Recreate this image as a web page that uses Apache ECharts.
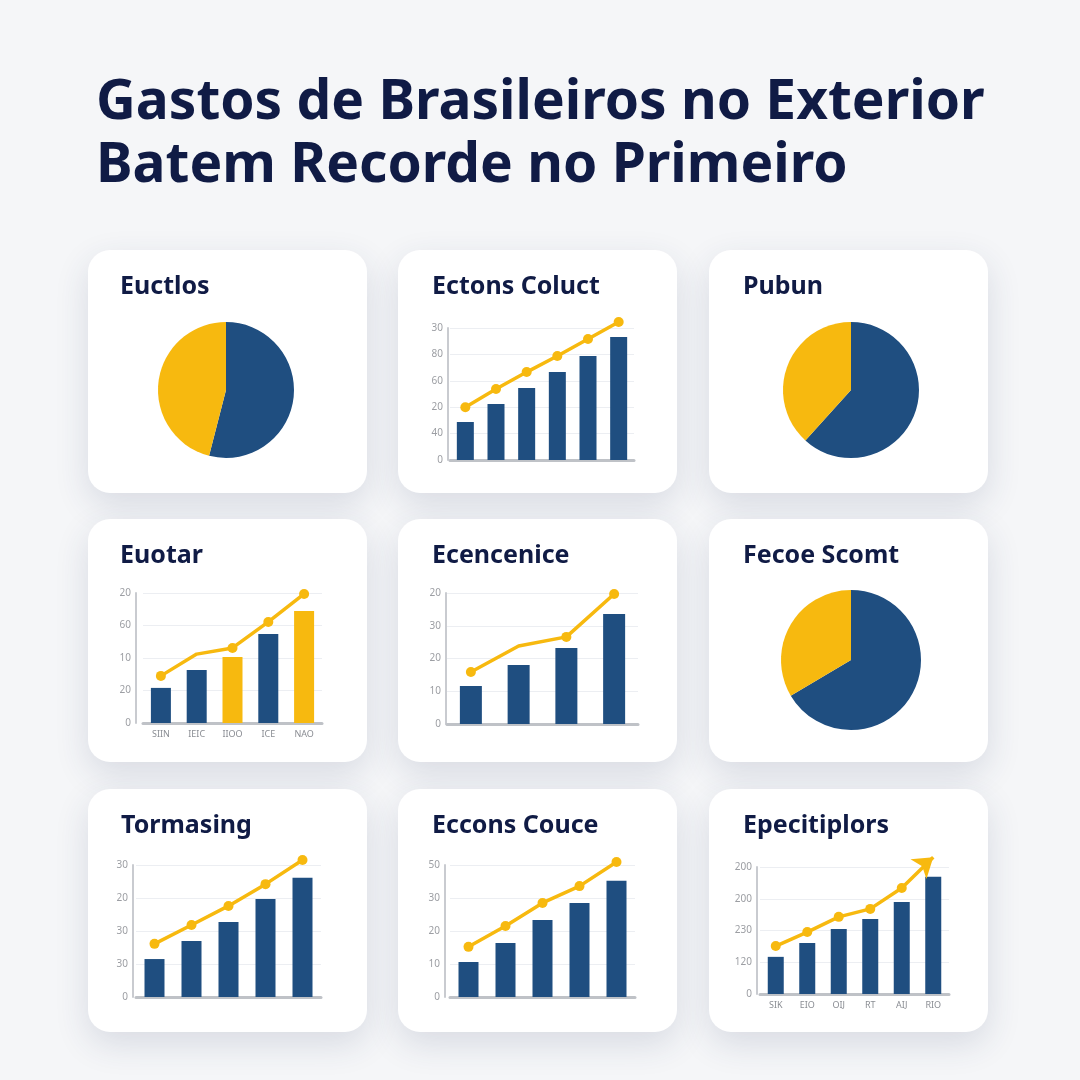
<!DOCTYPE html>
<html>
<head>
<meta charset="utf-8">
<script src="https://cdn.jsdelivr.net/npm/echarts@6/dist/echarts.min.js"></script>
<style>
  html, body { margin: 0; padding: 0; background: #f5f6f8; }
  #chart { width: 1080px; height: 1080px; }
</style>
</head>
<body>
<div id="chart"></div>
<script>
// ---- data ----
const pageTitle = ['Gastos de Brasileiros no Exterior', 'Batem Recorde no Primeiro'];
const cardTitles = ['Euctlos', 'Ectons Coluct', 'Pubun', 'Euotar', 'Ecencenice', 'Fecoe Scomt', 'Tormasing', 'Eccons Couce', 'Epecitiplors'];

const pieNames = ['Azul', 'Amarelo'];
const euctlosPie = [54, 46];
const pubunPie = [61.7, 38.3];
const fecoePie = [66.5, 33.5];

const ectonsCategories = ['1', '2', '3', '4', '5', '6'];
const ectonsBars = [1.44, 2.12, 2.73, 3.33, 3.94, 4.66];
const ectonsLine = [2.0, 2.69, 3.33, 3.94, 4.58, 5.23];
const ectonsTicks = ['0', '40', '20', '60', '80', '30'];

const euotarCategories = ['SIIN', 'IEIC', 'IIOO', 'ICE', 'NAO'];
const euotarBars = [1.08, 1.63, 2.03, 2.74, 3.45];
const euotarLine = [1.45, 2.12, 2.31, 3.11, 3.97];
const euotarTicks = ['0', '20', '10', '60', '20'];

const ecenCategories = ['1', '2', '3', '4'];
const ecenBars = [1.16, 1.80, 2.32, 3.36];
const ecenLine = [1.59, 2.38, 2.66, 3.97];
const ecenTicks = ['0', '10', '20', '30', '20'];

const tormCategories = ['1', '2', '3', '4', '5'];
const tormBars = [1.15, 1.70, 2.27, 2.97, 3.61];
const tormLine = [1.61, 2.18, 2.76, 3.42, 4.15];
const tormTicks = ['0', '30', '30', '20', '30'];

const ecconsCategories = ['1', '2', '3', '4', '5'];
const ecconsBars = [1.06, 1.64, 2.33, 2.85, 3.52];
const ecconsLine = [1.52, 2.15, 2.85, 3.36, 4.09];
const ecconsTicks = ['0', '10', '20', '30', '50'];

const epecCategories = ['SIK', 'EIO', 'OIJ', 'RT', 'AIJ', 'RIO'];
const epecBars = [1.17, 1.61, 2.05, 2.36, 2.90, 3.69];
const epecLine = [1.51, 1.95, 2.43, 2.68, 3.34, 4.31];
const epecTicks = ['0', '120', '230', '200', '200'];

// ---- style / layout ----
const BLUE = '#1f4e80';
const YELLOW = '#f7b90f';
const NAVY = '#101b45';
const FONT = 'Noto Sans';

const cards = [
  [88, 250], [398, 250], [709, 250],
  [88, 519], [398, 519], [709, 519],
  [88, 789], [398, 789], [709, 789]
];
const titleTops = [274, 274, 274, 543, 543, 543, 813, 813, 813];
const titleLefts = [120, 432, 743, 120, 432, 743, 121, 432, 743];

const barCharts = [
  { cats: ectonsCategories, bars: ectonsBars, line: ectonsLine, ticks: ectonsTicks,
    grid: { left: 450, top: 328, width: 184, height: 132 }, offset: 2, barWidth: 17, showX: false },
  { cats: euotarCategories, bars: euotarBars, line: euotarLine, ticks: euotarTicks,
    grid: { left: 143, top: 593, width: 179, height: 130 }, offset: 7, barWidth: 20, showX: true,
    barColors: [BLUE, BLUE, YELLOW, BLUE, YELLOW], hideSymbol: [1] },
  { cats: ecenCategories, bars: ecenBars, line: ecenLine, ticks: ecenTicks,
    grid: { left: 447, top: 593, width: 191, height: 131 }, offset: 1, barWidth: 22, showX: false,
    hideSymbol: [1] },
  { cats: tormCategories, bars: tormBars, line: tormLine, ticks: tormTicks,
    grid: { left: 136, top: 865, width: 185, height: 132 }, offset: 3, barWidth: 20, showX: false },
  { cats: ecconsCategories, bars: ecconsBars, line: ecconsLine, ticks: ecconsTicks,
    grid: { left: 450, top: 865, width: 185, height: 132 }, offset: 5, barWidth: 20, showX: false },
  { cats: epecCategories, bars: epecBars, line: epecLine, ticks: epecTicks,
    grid: { left: 760, top: 867, width: 189, height: 127 }, offset: 3, barWidth: 16, showX: true,
    arrowLast: true }
];

const pies = [
  { values: euctlosPie, center: [226, 390], radius: 68 },
  { values: pubunPie, center: [851, 390], radius: 68 },
  { values: fecoePie, center: [851, 660], radius: 70 }
];

// ---- build option ----
const grids = [];
const xAxes = [];
const yAxes = [];
const series = [];

barCharts.forEach((c, i) => {
  grids.push(Object.assign({ containLabel: false }, c.grid));
  xAxes.push({
    gridIndex: i,
    type: 'category',
    data: c.cats,
    axisLine: { lineStyle: { color: '#bfc2c7', width: 3 } },
    axisTick: { show: false },
    axisLabel: { show: c.showX, color: '#8a8d93', fontSize: 9, margin: 7, fontFamily: FONT }
  });
  yAxes.push({
    gridIndex: i,
    type: 'value',
    min: 0,
    max: c.ticks.length - 1,
    interval: 1,
    offset: c.offset,
    axisLine: { show: true, lineStyle: { color: '#c9cbd0', width: 2 } },
    axisTick: { show: false },
    splitLine: { lineStyle: { color: '#eceef2', width: 1 } },
    axisLabel: {
      formatter: v => c.ticks[v],
      color: '#9c9ea3', fontSize: 10, margin: 5, fontFamily: FONT
    }
  });
  series.push({
    type: 'bar',
    xAxisIndex: i,
    yAxisIndex: i,
    barWidth: c.barWidth,
    data: c.bars.map((v, k) => ({
      value: v,
      itemStyle: { color: c.barColors ? c.barColors[k] : BLUE }
    })),
    z: 2
  });
  series.push({
    type: 'line',
    xAxisIndex: i,
    yAxisIndex: i,
    clip: false,
    symbol: 'circle',
    symbolSize: 10,
    lineStyle: { color: YELLOW, width: 3.5 },
    itemStyle: { color: YELLOW },
    data: c.line.map((v, k) => {
      const d = { value: v };
      if (c.hideSymbol && c.hideSymbol.includes(k)) d.symbol = 'none';
      if (c.arrowLast && k === c.line.length - 1) {
        d.symbol = 'arrow';
        d.symbolSize = [19, 19];
        d.symbolRotate = -51;
      }
      return d;
    }),
    z: 3
  });
});

pies.forEach(p => {
  series.push({
    type: 'pie',
    center: p.center,
    radius: p.radius,
    startAngle: 90,
    clockwise: true,
    label: { show: false },
    labelLine: { show: false },
    silent: true,
    data: p.values.map((v, k) => ({
      value: v, name: pieNames[k], itemStyle: { color: k === 0 ? BLUE : YELLOW }
    }))
  });
});

const titles = [{
  text: pageTitle.join('\n'),
  left: 96,
  top: 72,
  padding: 0,
  textStyle: { fontFamily: FONT, fontSize: 55, fontWeight: 'bold', color: NAVY, lineHeight: 63 }
}];
cardTitles.forEach((t, i) => {
  titles.push({
    text: t,
    left: titleLefts[i],
    top: titleTops[i],
    padding: 0,
    textStyle: { fontFamily: FONT, fontSize: 25, fontWeight: 'bold', color: NAVY, lineHeight: 25 }
  });
});

const cardRects = cards.map(([x, y]) => ({
  type: 'rect',
  z: -10,
  shape: { x: x, y: y, width: 279, height: 243, r: 22 },
  style: {
    fill: '#ffffff',
    shadowBlur: 34,
    shadowOffsetY: 12,
    shadowColor: 'rgba(40, 60, 100, 0.14)'
  },
  silent: true
}));

const chart = echarts.init(document.getElementById('chart'), null, { renderer: 'canvas' });
chart.setOption({
  backgroundColor: '#f5f6f8',
  animation: false,
  title: titles,
  graphic: { elements: cardRects },
  grid: grids,
  xAxis: xAxes,
  yAxis: yAxes,
  series: series
});
</script>
</body>
</html>
